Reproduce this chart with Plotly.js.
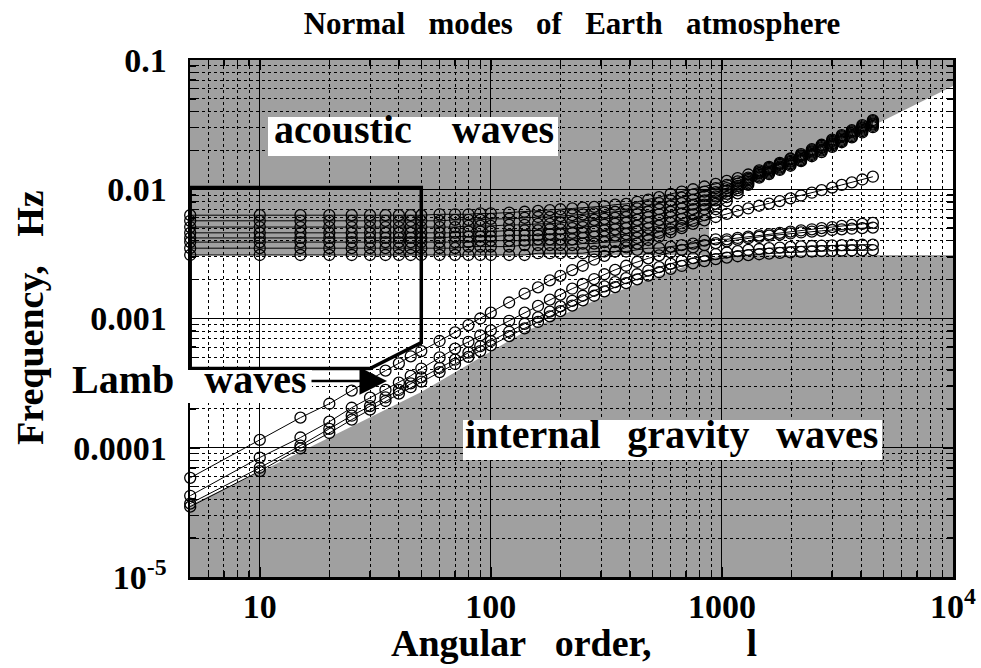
<!DOCTYPE html>
<html>
<head>
<meta charset="utf-8">
<script src="https://cdn.plot.ly/plotly-3.0.1.min.js"></script>
<style>
  html, body { margin: 0; padding: 0; background: #fff; }
  #chart { width: 981px; height: 668px; }
</style>
</head>
<body>
<div id="chart"></div>
<script>
// Angular order l at which the normal-mode frequencies were computed
const angularOrder = [5,10,15,20,25,30,35,40,45,50,60,70,80,90,100,120,140,160,180,200,
  225,250,280,310,345,385,430,480,535,600,670,750,840,940,1050,1170,1300,1450,1600,1780,
  1980,2200,2450,2700,3000,3300,3650,4050,4500];

// Lamb / internal-gravity branches (Hz), lowest first
const gravity0 = [3.5e-5,6.6e-5,9.9e-5,1.3e-4,1.65e-4,1.97e-4,2.3e-4,2.62e-4,2.94e-4,3.25e-4,
  3.85e-4,4.45e-4,5.05e-4,5.6e-4,6.2e-4,7.3e-4,8.4e-4,9.4e-4,1.04e-3,1.14e-3,
  1.26e-3,1.38e-3,1.5e-3,1.62e-3,1.75e-3,1.88e-3,2.01e-3,2.15e-3,2.28e-3,2.42e-3,
  2.55e-3,2.67e-3,2.78e-3,2.88e-3,2.96e-3,3.03e-3,3.09e-3,3.14e-3,3.18e-3,3.22e-3,
  3.25e-3,3.28e-3,3.3e-3,3.32e-3,3.34e-3,3.35e-3,3.36e-3,3.37e-3,3.38e-3];
const gravity1 = [3.7e-5,7.0e-5,1.04e-4,1.4e-4,1.77e-4,2.1e-4,2.45e-4,2.8e-4,3.15e-4,3.5e-4,
  4.15e-4,4.8e-4,5.45e-4,6.1e-4,6.7e-4,7.9e-4,9.1e-4,1.02e-3,1.13e-3,1.24e-3,
  1.37e-3,1.5e-3,1.64e-3,1.77e-3,1.91e-3,2.05e-3,2.2e-3,2.35e-3,2.5e-3,2.65e-3,
  2.8e-3,2.93e-3,3.05e-3,3.15e-3,3.24e-3,3.32e-3,3.39e-3,3.45e-3,3.5e-3,3.54e-3,
  3.58e-3,3.61e-3,3.64e-3,3.66e-3,3.68e-3,3.7e-3,3.71e-3,3.72e-3,3.73e-3];
const gravity2 = [4.25e-5,8.4e-5,1.2e-4,1.59e-4,2.04e-4,2.44e-4,2.8e-4,3.19e-4,3.6e-4,4.1e-4,
  5.0e-4,5.85e-4,6.6e-4,7.4e-4,8.1e-4,9.6e-4,1.11e-3,1.25e-3,1.4e-3,1.53e-3,
  1.7e-3,1.85e-3,2.02e-3,2.2e-3,2.38e-3,2.56e-3,2.74e-3,2.92e-3,3.08e-3,3.25e-3,
  3.4e-3,3.55e-3,3.7e-3,3.83e-3,3.95e-3,4.07e-3,4.18e-3,4.28e-3,4.37e-3,4.46e-3,
  4.55e-3,4.63e-3,4.7e-3,4.77e-3,4.84e-3,4.9e-3,4.95e-3,5.0e-3,5.05e-3];
const gravity3 = [5.85e-5,1.15e-4,1.71e-4,2.19e-4,2.77e-4,3.4e-4,3.95e-4,4.5e-4,5.1e-4,5.6e-4,
  6.7e-4,7.8e-4,8.9e-4,1.0e-3,1.11e-3,1.33e-3,1.56e-3,1.74e-3,1.97e-3,2.14e-3,
  2.37e-3,2.56e-3,2.85e-3,3.05e-3,3.3e-3,3.55e-3,3.8e-3,4.05e-3,4.3e-3,4.65e-3,
  5.0e-3,5.4e-3,5.75e-3,6.1e-3,6.45e-3,6.8e-3,7.1e-3,7.45e-3,7.75e-3,8.1e-3,
  8.5e-3,8.95e-3,9.4e-3,9.85e-3,1.03e-2,1.08e-2,1.13e-2,1.19e-2,1.25e-2];

// Acoustic branches (Hz), lowest first
const acoustic0 = [.0031,.0031,.0031,.0031,.0031,.0031,.0031,.0031,.0031,.0031,
  .0031,.0031,.0031,.0031,.0031,.0031,.0031,.0032,.0032,
  .0032,.0032,.0032,.0033,.0033,.0033,.0033,.0034,.0035,.0035,.0036,.0037,.0038,.0040,.0041,.0041,.0042,.0043,
  .0044,.0045,.0046,.0047,.0048,.0049,.0050,.0051,.0052,.0053,.0054,.0055];
const acoustic1 = [.0035,.0035,.0035,.0035,.0035,.0035,.0035,.0035,.0035,.0035,
  .0035,.0035,.0036,.0036,.0036,.0036,.0037,.0037,.0037,
  .0037,.0037,.0038,.0038,.0039,.0039,.0040,.0042,.0044,.0046,.0049,.0052,.0057,.0063,.0070,.0081,.0093,.0108,
  .0123,.0131,.0141,.0152,.0165,.0180,.0194,.0213,.0231,.0252,.0275,.0302];
const acoustic2 = [.0039,.0039,.0039,.0039,.0039,.0039,.0039,.0039,.0039,.0039,
  .0039,.0039,.0039,.0040,.0040,.0040,.0040,.0041,.0041,
  .0041,.0041,.0042,.0043,.0043,.0044,.0045,.0047,.0050,.0052,.0055,.0059,.0064,.0070,.0077,.0087,.0098,.0111,
  .0126,.0134,.0144,.0156,.0168,.0184,.0199,.0218,.0236,.0257,.0282,.0309];
const acoustic3 = [.0042,.0042,.0042,.0042,.0042,.0042,.0042,.0042,.0042,.0042,
  .0042,.0043,.0043,.0043,.0043,.0044,.0044,.0044,.0045,
  .0045,.0046,.0046,.0047,.0048,.0049,.0050,.0052,.0055,.0058,.0061,.0065,.0070,.0076,.0082,.0092,.0102,.0114,
  .0129,.0137,.0147,.0159,.0172,.0188,.0203,.0223,.0241,.0263,.0288,.0316];
const acoustic4 = [.0046,.0046,.0046,.0046,.0046,.0046,.0046,.0046,.0046,.0046,
  .0046,.0046,.0047,.0047,.0047,.0048,.0048,.0048,.0049,
  .0049,.0050,.0051,.0052,.0053,.0054,.0055,.0058,.0061,.0064,.0067,.0071,.0076,.0082,.0088,.0097,.0106,.0117,
  .0132,.0140,.0150,.0163,.0176,.0192,.0208,.0227,.0246,.0269,.0294,.0322];
const acoustic5 = [.0051,.0051,.0051,.0051,.0051,.0051,.0051,.0051,.0051,.0051,
  .0051,.0051,.0052,.0052,.0052,.0053,.0053,.0054,.0054,
  .0055,.0056,.0057,.0058,.0059,.0060,.0061,.0064,.0067,.0070,.0074,.0078,.0083,.0089,.0095,.0102,.0110,.0120,
  .0134,.0143,.0154,.0166,.0180,.0196,.0212,.0232,.0252,.0275,.0300,.0329];
const acoustic6 = [.0057,.0057,.0057,.0057,.0057,.0057,.0057,.0057,.0057,.0057,
  .0057,.0058,.0058,.0058,.0059,.0059,.0060,.0061,.0061,
  .0062,.0063,.0064,.0065,.0066,.0067,.0068,.0071,.0074,.0078,.0082,.0086,.0091,.0096,.0102,.0108,.0115,.0123,
  .0137,.0146,.0157,.0170,.0183,.0200,.0217,.0237,.0257,.0280,.0307,.0336];
const acoustic7 = [.0063,.0063,.0063,.0063,.0063,.0063,.0063,.0063,.0063,.0063,
  .0064,.0064,.0064,.0065,.0065,.0066,.0067,.0068,.0069,
  .0070,.0071,.0072,.0073,.0074,.0076,.0077,.0080,.0083,.0087,.0092,.0096,.0100,.0105,.0110,.0116,.0122,.0130,
  .0140,.0149,.0160,.0173,.0187,.0204,.0221,.0242,.0262,.0286,.0313,.0343];

// Boundaries of the evanescent (non-propagating) zones
const cutoffFreq = 0.0031;
const lambEdgeOrder = [5, 10, 50, 140, 300, 500, 700, 1000];
const lambEdgeFreq  = [3.6e-5, 6.5e-5, 2.7e-4, 7.9e-4, 1.45e-3, 2.05e-3, 2.55e-3, 3.1e-3];
const upperEdgeOrder = [880, 1500, 2100, 4660, 10000];
const upperEdgeFreq  = [0.0070, 0.0125, 0.017, 0.032, 0.063];

// Axis ticks
const xTickVals = [10, 100, 1000, 10000];
const xTickText = ['10', '100', '1000', '10<sup>4</sup>'];
const yTickVals = [1e-5, 1e-4, 1e-3, 1e-2, 1e-1];
const yTickText = ['10<sup>-5</sup>', '0.0001', '0.001', '0.01', '0.1'];

const branches = [gravity0, gravity1, gravity2, gravity3,
  acoustic0, acoustic1, acoustic2, acoustic3, acoustic4, acoustic5, acoustic6, acoustic7];

const FONT = '"Liberation Serif", "Times New Roman", Times, serif';
const NB = n => '\u00a0'.repeat(n);

const traces = branches.map(freq => ({
  type: 'scatter', mode: 'lines+markers',
  x: angularOrder, y: freq,
  line: { color: '#000', width: 1 },
  marker: { symbol: 'circle-open', size: 11, color: '#000', line: { width: 1.3, color: '#000' } },
  cliponaxis: false, hoverinfo: 'skip'
}));

function num(v) { return Number(v).toFixed(9); }
function polyPath(pts) {
  return 'M ' + pts.map(p => num(p[0]) + ',' + num(p[1])).join(' L ') + ' Z';
}

// white zone below the acoustic cut-off and above the Lamb edge
const lowWhite = [[4.9, cutoffFreq], [4.9, lambEdgeFreq[0]]];
lambEdgeOrder.forEach((l, i) => lowWhite.push([l, lambEdgeFreq[i]]));
// white zone above the cut-off and below the Lamb edge
const highWhite = [[upperEdgeOrder[0], cutoffFreq]];
upperEdgeOrder.forEach((l, i) => highWhite.push([l, upperEdgeFreq[i]]));
highWhite.push([10000, cutoffFreq]);

function minorTicks(decades, lo, hi) {
  const out = [];
  decades.forEach(d => { for (let m = 2; m <= 9; m++) { const v = m * d; if (v >= lo && v <= hi) out.push(v); } });
  return out;
}
const xMinor = minorTicks([1, 10, 100, 1000], 5, 10000);
const yMinor = minorTicks([1e-5, 1e-4, 1e-3, 1e-2], 1e-5, 0.1);

// pixel helpers for paper placement (plot area 190..953 x 60..577)
const PL = 190, PT = 60, PW = 763, PH = 517;
const px = x => (x - PL) / PW;
const py = y => 1 - (y - PT) / PH;

const axisCommon = {
  type: 'log', tickmode: 'array',
  ticks: 'inside', ticklen: 10, tickwidth: 1.5, tickcolor: '#000',
  showline: true, linewidth: 2.5, linecolor: '#000', mirror: 'allticks',
  showgrid: true, gridcolor: '#000', gridwidth: 1, zeroline: false,
  tickfont: { family: FONT, size: 34, color: '#000', weight: 'bold' }
};

const layout = {
  width: 981, height: 668,
  margin: { l: PL, r: 981 - PL - PW, t: PT, b: 668 - PT - PH },
  paper_bgcolor: '#fff', plot_bgcolor: '#a0a0a0',
  showlegend: false,
  font: { family: FONT, color: '#000', weight: 'bold' },
  title: {
    text: ['Normal', 'modes', 'of', 'Earth', 'atmosphere'].join(NB(3)),
    x: px(572), xref: 'paper', xanchor: 'center',
    y: 1 - 23 / 668, yref: 'container', yanchor: 'middle',
    font: { family: FONT, size: 31, color: '#000', weight: 'bold' }
  },
  xaxis: Object.assign({}, axisCommon, {
    range: [Math.log10(4.99), 4], tickvals: xTickVals, ticktext: xTickText,
    ticklabelstandoff: -2,
    minor: { tickmode: 'array', tickvals: xMinor, ticks: 'inside', ticklen: 6, tickcolor: '#000',
             showgrid: true, gridcolor: '#000', gridwidth: 1, griddash: 'dot' }
  }),
  yaxis: Object.assign({}, axisCommon, {
    range: [-5, -1], tickvals: yTickVals, ticktext: yTickText,
    ticklabelstandoff: 14,
    minor: { tickmode: 'array', tickvals: yMinor, ticks: 'inside', ticklen: 6, tickcolor: '#000',
             showgrid: true, gridcolor: '#000', gridwidth: 1, griddash: 'dot' }
  }),
  shapes: [
    { type: 'path', xref: 'x', yref: 'y', layer: 'below', path: polyPath(lowWhite),
      fillcolor: '#fff', line: { width: 0 } },
    { type: 'path', xref: 'x', yref: 'y', layer: 'below', path: polyPath(highWhite),
      fillcolor: '#fff', line: { width: 0 } },
    // inset frame with a cut corner
    { type: 'path', xref: 'x', yref: 'y', layer: 'above',
      path: polyPath([[5, 0.0103], [50, 0.0103], [50, 6.5e-4], [30, 4.1e-4], [5, 4.1e-4]]),
      fillcolor: 'rgba(0,0,0,0)', line: { color: '#000', width: 3.5 } },
    // label boxes
    { type: 'rect', xref: 'paper', yref: 'paper', layer: 'above',
      x0: px(268), x1: px(558), y0: py(156), y1: py(117), fillcolor: '#fff', line: { width: 0 } },
    { type: 'rect', xref: 'paper', yref: 'paper', layer: 'above',
      x0: px(463), x1: px(882), y0: py(460), y1: py(420), fillcolor: '#fff', line: { width: 0 } },
    { type: 'rect', xref: 'paper', yref: 'paper', layer: 'above',
      x0: px(186), x1: px(312), y0: py(403), y1: py(370), fillcolor: '#fff', line: { width: 0 } }
  ],
  annotations: [
    { xref: 'paper', yref: 'paper', x: px(413.5), y: py(129.5), xanchor: 'center', yanchor: 'middle',
      text: 'acoustic' + NB(4) + 'waves', showarrow: false,
      font: { family: FONT, size: 40, color: '#000', weight: 'bold' } },
    { xref: 'paper', yref: 'paper', x: px(671.5), y: py(434.5), xanchor: 'center', yanchor: 'middle',
      text: 'internal' + NB(2) + '\u2006gravity' + NB(2) + '\u2006waves', showarrow: false,
      font: { family: FONT, size: 40, color: '#000', weight: 'bold' } },
    { xref: 'paper', yref: 'paper', x: px(188.5), y: py(379.5), xanchor: 'center', yanchor: 'middle',
      text: 'Lamb' + NB(3) + 'waves', showarrow: false,
      font: { family: FONT, size: 40, color: '#000', weight: 'bold' } },
    { xref: 'paper', yref: 'paper', x: px(387), y: py(381), text: '', showarrow: true,
      ax: -77, ay: 0, arrowhead: 2, arrowsize: 2.2, arrowwidth: 2.5, arrowcolor: '#000', standoff: 0 },
    { xref: 'paper', yref: 'paper', x: px(574), y: py(643), xanchor: 'center', yanchor: 'middle',
      text: 'Angular' + NB(3) + 'order,' + NB(10) + 'l', showarrow: false,
      font: { family: FONT, size: 38, color: '#000', weight: 'bold' } },
    { xref: 'paper', yref: 'paper', x: px(30), y: py(318), xanchor: 'center', yanchor: 'middle',
      text: 'Frequency,' + NB(3) + 'Hz', textangle: -90, showarrow: false,
      font: { family: FONT, size: 38, color: '#000', weight: 'bold' } }
  ]
};

Plotly.newPlot('chart', traces, layout, { displayModeBar: false, staticPlot: true });
</script>
</body>
</html>
